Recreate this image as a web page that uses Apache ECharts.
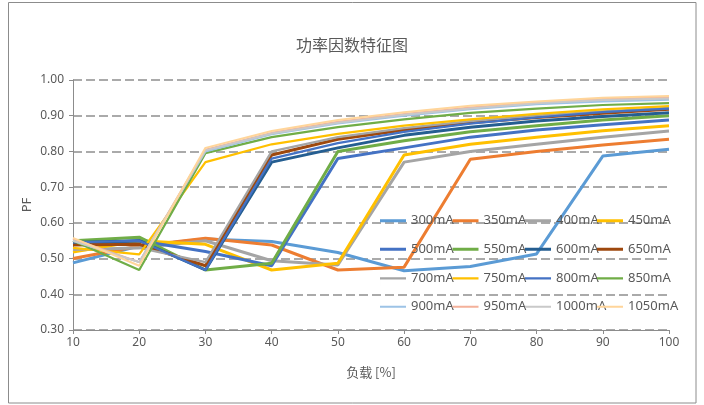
<!DOCTYPE html>
<html>
<head>
<meta charset="utf-8">
<script src="https://cdn.jsdelivr.net/npm/echarts@6/dist/echarts.min.js"></script>
<style>html,body{margin:0;padding:0;background:#fff;}#c{width:704px;height:405px;}</style>
</head>
<body>
<div id="c"></div>
<script>
// ---- data ----
var loads = [10, 20, 30, 40, 50, 60, 70, 80, 90, 100];
var seriesNames = ['300mA','350mA','400mA','450mA','500mA','550mA','600mA','650mA','700mA','750mA','800mA','850mA','900mA','950mA','1000mA','1050mA'];
var pf300  = [0.488, 0.535, 0.555, 0.548, 0.517, 0.466, 0.478, 0.513, 0.787, 0.806];
var pf350  = [0.500, 0.535, 0.557, 0.538, 0.468, 0.476, 0.778, 0.800, 0.818, 0.834];
var pf400  = [0.524, 0.530, 0.550, 0.494, 0.482, 0.770, 0.800, 0.820, 0.840, 0.857];
var pf450  = [0.518, 0.550, 0.540, 0.468, 0.487, 0.790, 0.820, 0.840, 0.858, 0.872];
var pf500  = [0.540, 0.550, 0.520, 0.480, 0.780, 0.810, 0.840, 0.860, 0.875, 0.888];
var pf550  = [0.550, 0.560, 0.468, 0.487, 0.800, 0.830, 0.855, 0.872, 0.888, 0.900];
var pf600  = [0.545, 0.550, 0.468, 0.770, 0.810, 0.845, 0.868, 0.885, 0.898, 0.908];
var pf650  = [0.538, 0.540, 0.480, 0.790, 0.834, 0.860, 0.880, 0.895, 0.907, 0.918];
var pf700  = [0.524, 0.530, 0.490, 0.800, 0.840, 0.865, 0.885, 0.900, 0.912, 0.922];
var pf750  = [0.530, 0.512, 0.770, 0.820, 0.849, 0.872, 0.890, 0.905, 0.918, 0.927];
var pf800  = [0.545, 0.550, 0.468, 0.780, 0.823, 0.855, 0.878, 0.895, 0.910, 0.920];
var pf850  = [0.550, 0.468, 0.795, 0.840, 0.868, 0.890, 0.908, 0.920, 0.930, 0.935];
var pf900  = [0.550, 0.490, 0.800, 0.848, 0.878, 0.900, 0.918, 0.932, 0.940, 0.945];
var pf950  = [0.555, 0.490, 0.805, 0.852, 0.883, 0.905, 0.923, 0.937, 0.947, 0.952];
var pf1000 = [0.550, 0.490, 0.803, 0.850, 0.880, 0.903, 0.920, 0.935, 0.944, 0.948];
var pf1050 = [0.558, 0.480, 0.810, 0.857, 0.888, 0.910, 0.928, 0.940, 0.950, 0.955];
var yTicks = ['0.30','0.40','0.50','0.60','0.70','0.80','0.90','1.00'];

var allValues = [pf300,pf350,pf400,pf450,pf500,pf550,pf600,pf650,pf700,pf750,pf800,pf850,pf900,pf950,pf1000,pf1050];
var colors = ['#5B9BD5','#ED7D31','#A5A5A5','#FFC000','#4472C4','#70AD47','#255E91','#9E480E',
              '#A5A5A5','#FFC000','#4472C4','#70AD47','#9DC3E6','#F4B19A','#C9C9C9','#FFD59A'];
var widths = [3,3,3,3,3,3,3,3, 2.25,2.25,2.25,2.25, 2,2,2,2];

var series = allValues.map(function (vals, i) {
  return {
    name: seriesNames[i],
    type: 'line',
    symbol: 'none',
    smooth: false,
    data: loads.map(function (x, j) { return [x, vals[j]]; }),
    lineStyle: { color: colors[i], width: widths[i] },
    itemStyle: { color: colors[i] },
    emphasis: { disabled: true }
  };
});

var textColor = '#595959';
var fontFam = '"Noto Sans", "Noto Sans CJK SC", sans-serif';
var colLeft = [380, 452.5, 525, 597];
var rowCenter = [220.7, 249.2, 278.4, 306.7];
var legends = seriesNames.map(function (nm, i) {
  var r = Math.floor(i / 4), c = i % 4;
  var h = 16;
  return {
    orient: 'horizontal',
    left: colLeft[c],
    top: rowCenter[r] - h / 2,
    itemWidth: 26,
    itemHeight: h,
    icon: 'path://M0,' + (8 - widths[i] / 2) + 'L26,' + (8 - widths[i] / 2) + 'L26,' + (8 + widths[i] / 2) + 'L0,' + (8 + widths[i] / 2) + 'Z M0,0L0.01,0L0.01,16L0,16Z',
    itemStyle: { color: colors[i], borderWidth: 0 },
    symbolKeepAspect: false,
    padding: 0,
    textStyle: { color: textColor, fontSize: 13, fontFamily: fontFam },
    data: [nm],
    selectedMode: false
  };
});

var chart = echarts.init(document.getElementById('c'), null, { renderer: 'canvas' });
chart.setOption({
  backgroundColor: '#fff',
  animation: false,
  color: colors,
  title: {
    text: '功率因数特征图',
    left: 'center',
    top: 32,
    textStyle: { color: textColor, fontSize: 16, fontWeight: 'normal', fontFamily: '"Noto Sans CJK SC", sans-serif' }
  },
  graphic: [{
    type: 'rect',
    shape: { x: 8.5, y: 2.5, width: 687.5, height: 400.5 },
    style: { fill: 'none', stroke: '#8c8c8c', lineWidth: 1 },
    silent: true, z: -1
  }],
  legend: legends,
  grid: { left: 73, right: 35, top: 80, bottom: 75 },
  xAxis: {
    type: 'value', min: 10, max: 100, interval: 10,
    name: '负载 [%]', nameLocation: 'middle', nameGap: 36, nameMoveOverlap: false,
    nameTextStyle: { color: textColor, fontSize: 13, fontFamily: '"Noto Sans CJK SC", sans-serif' },
    axisLine: { show: true, onZero: false, lineStyle: { color: '#8c8c8c', width: 1 } },
    axisTick: { show: true, length: 4, lineStyle: { color: '#8c8c8c' } },
    axisLabel: { color: textColor, fontSize: 12, margin: 7, fontFamily: fontFam },
    splitLine: { show: false }
  },
  yAxis: {
    type: 'value', min: 0.3, max: 1.0, interval: 0.1,
    name: 'PF', nameLocation: 'middle', nameGap: 39, nameRotate: 90, nameMoveOverlap: false,
    nameTextStyle: { color: textColor, fontSize: 13, fontFamily: fontFam },
    axisLine: { show: true, lineStyle: { color: '#8c8c8c', width: 1 } },
    axisTick: { show: true, length: 4, lineStyle: { color: '#8c8c8c' } },
    axisLabel: {
      color: textColor, fontSize: 12, margin: 9, fontFamily: fontFam,
      formatter: function (v) {
        var idx = Math.round((v - 0.3) * 10);
        return yTicks[idx] !== undefined ? yTicks[idx] : v.toFixed(2);
      }
    },
    splitLine: { show: true, lineStyle: { color: '#8f8f8f', width: 1.5, type: [9, 4] } }
  },
  series: series
});
</script>
</body>
</html>
